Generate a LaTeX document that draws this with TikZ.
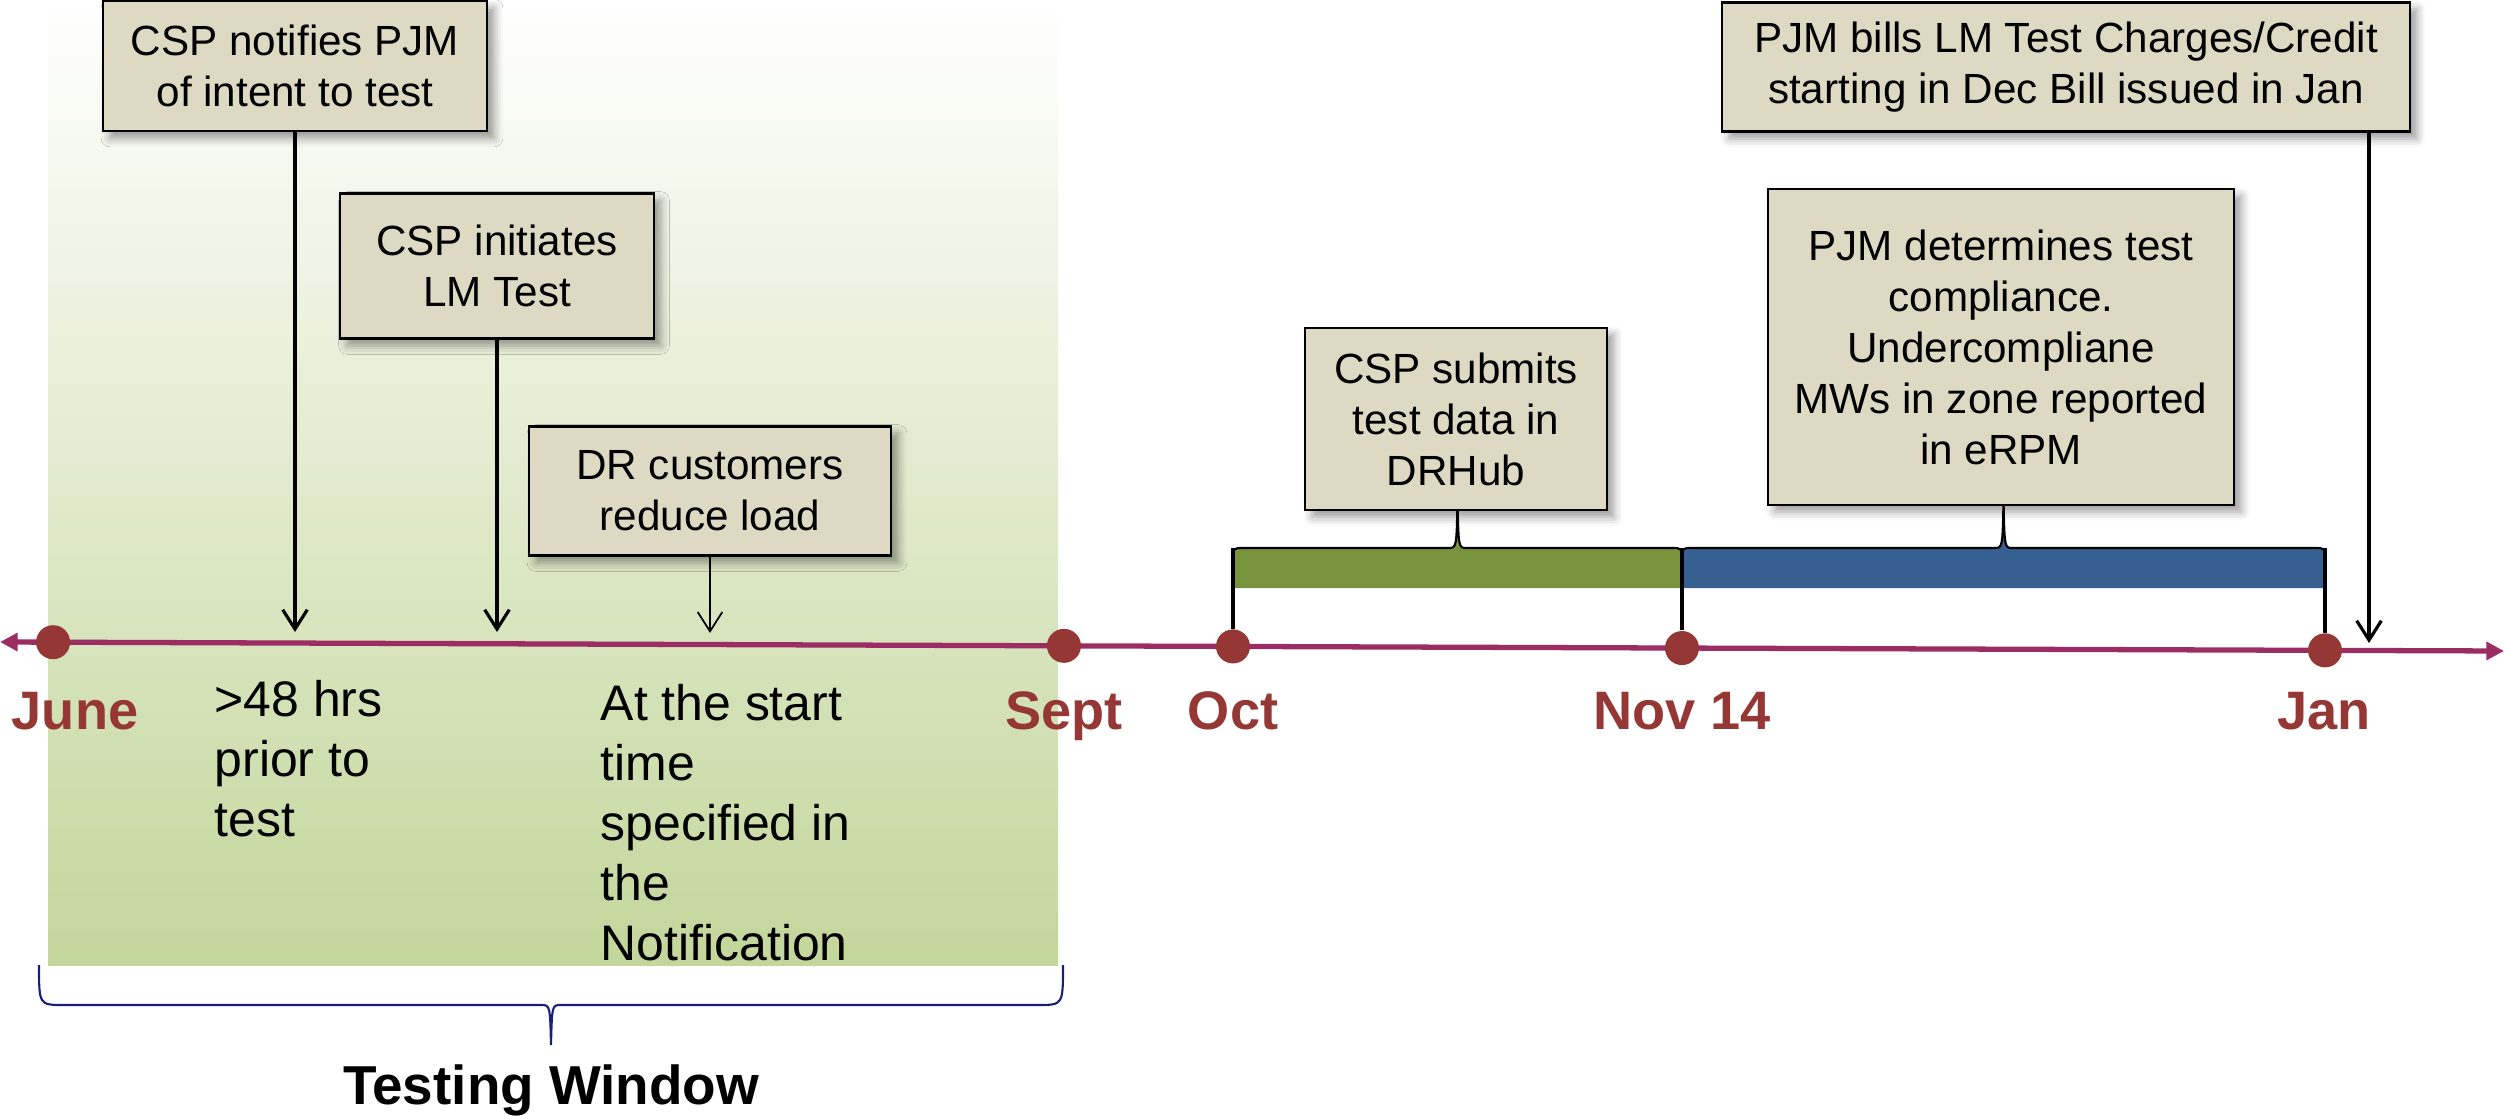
\documentclass[tikz,border=0pt]{standalone}
\usepackage{fontspec}
\setmainfont{Liberation Sans}
\usepackage{tikz}
\usetikzlibrary{positioning}
\usetikzlibrary{arrows.meta}
\usetikzlibrary{shadows.blur}
\definecolor{boxtan}{RGB}{221,217,195}
\definecolor{lineplum}{RGB}{155,45,100}
\definecolor{dotred}{RGB}{149,55,53}
\definecolor{windowgreen}{RGB}{195,214,155}
\definecolor{barolive}{RGB}{119,147,60}
\definecolor{barblue}{RGB}{55,96,146}
\definecolor{bracenavy}{RGB}{25,30,120}
\tikzset{%
  event box/.style={
    rectangle,
    draw,
    line width=0.6pt,
    fill=boxtan,
    align=center,
    inner sep=0pt,
    font=\fontsize{12}{14.5}\selectfont,
    blur shadow={shadow xshift=2pt, shadow yshift=-2pt, shadow blur radius=2.5pt, shadow opacity=40}
  },
  month dot/.style={
    circle,
    fill=dotred,
    minimum size=0.34cm,
    inner sep=0pt
  },
  month label/.style={
    text=dotred,
    anchor=base,
    font=\fontsize{15.4}{18}\selectfont\bfseries
  },
  window note/.style={
    align=left,
    anchor=north west,
    inner sep=0pt,
    font=\fontsize{14.2}{17}\selectfont
  },
  down arrow/.style={
    -{Straight Barb[length=5.5pt,width=7pt]},
    line width=0.9pt
  },
}

\begin{document}
\begin{tikzpicture}[x=0.01cm, y=-0.01cm]
          \useasboundingbox (0,0) rectangle (2504,1116);
          % testing window
          \shade[top color=white, bottom color=windowgreen] (48,0) rectangle (1058,965);
          \draw[bracenavy, line width=0.6pt] (39,965) .. controls (39,1005) .. (64,1005) -- (541,1005) .. controls (550,1005) .. (551,1045) .. controls (552,1005) .. (561,1005) -- (1038,1005) .. controls (1063,1005) .. (1063,965);
          \node[font=\fontsize{15.6}{18}\selectfont\bfseries, anchor=base] (window) at (551,1104) {Testing Window};
          % phase bars
          \foreach \a/\b/\c in {1233/1682/barolive, 1682/2325/barblue} {
              \pgfmathsetmacro\m{(\a+\b)/2}
              \fill[\c] (\a,588) -- (\a,562) .. controls (\a,548) .. (\a+10,548) -- (\m-9,548) .. controls (\m-1,548) .. (\m,500) .. controls (\m+1,548) .. (\m+9,548) -- (\b-10,548) .. controls (\b,548) .. (\b,562) -- (\b,588) -- cycle;
              \draw[line width=0.6pt] (\a,562) .. controls (\a,548) .. (\a+10,548) -- (\m-9,548) .. controls (\m-1,548) .. (\m,500) .. controls (\m+1,548) .. (\m+9,548) -- (\b-10,548) .. controls (\b,548) .. (\b,562);
          }
          % timeline
          \coordinate (west) at (0,642);
          \coordinate (east) at (2504,651);
          \draw[lineplum, line width=1.5pt, {Triangle[length=5pt,width=5pt]}-{Triangle[length=5pt,width=5pt]}] (west) -- (east);
          \foreach \nm/\p in {june/0.0212, sept/0.4249, oct/0.4924, nov/0.6717, jan/0.9285} {
              \path (west) -- (east) node[month dot, pos=\p] (\nm) {};
          }
          \foreach \nm in {oct, nov, jan} {
              \draw[line width=1pt] (\nm) -- (\nm |- 0,548);
          }
          \foreach \nm/\x/\txt in {june/75/June, sept/1064/Sept, oct/1233/Oct, nov/1682/Nov 14, jan/2324/Jan} {
              \node[month label] (\nm lab) at (\x,729) {\txt};
          }
          % events
          \node[event box, minimum width=3.84cm, minimum height=1.30cm] (notify) at (295,66) {CSP notifies PJM\\of intent to test};
          \node[event box, minimum width=3.13cm, minimum height=1.45cm] (initiate) at (497,266) {CSP initiates\\LM Test};
          \node[event box, minimum width=3.62cm, minimum height=1.29cm] (reduce) at (710,491) {DR customers\\reduce load};
          \node[event box, minimum width=3.01cm, minimum height=1.82cm] (submit) at (1456,419) {CSP submits\\test data in\\DRHub};
          \node[event box, minimum width=4.66cm, minimum height=3.15cm] (determine) at (2001,347) {PJM determines test\\compliance.\\Undercompliane\\MWs in zone reported\\in eRPM};
          \node[event box, minimum width=6.87cm, minimum height=1.29cm] (bills) at (2066,67) {PJM bills LM Test Charges/Credit\\starting in Dec Bill issued in Jan};
          \coordinate (notifytip) at (295,632);
          \coordinate (initiatetip) at (497,632);
          \coordinate (reducetip) at (710,633);
          \coordinate (billstip) at (2369,643);
          \draw[down arrow] (notify) -- (notifytip);
          \draw[down arrow] (initiate) -- (initiatetip);
          \draw[down arrow, line width=0.5pt] (reduce) -- (reducetip);
          \draw[down arrow] (bills.south -| billstip) -- (billstip);
          % notes under the line
          \node[window note] (prior) at (214,680) {>48 hrs\\prior to\\test};
          \node[window note] (start) at (600,684) {At the start\\time\\specified in\\the\\Notification};
\end{tikzpicture}
\end{document}
